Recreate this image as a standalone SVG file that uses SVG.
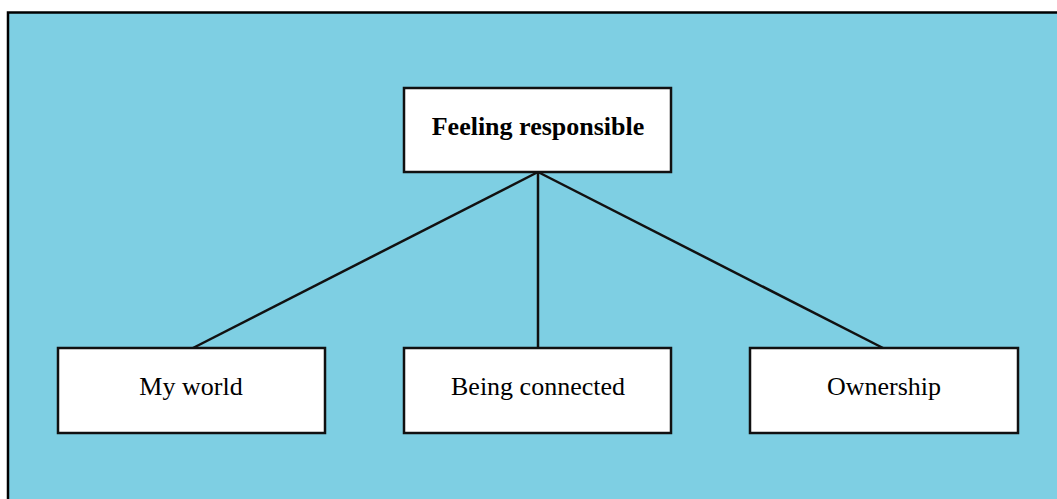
<svg xmlns="http://www.w3.org/2000/svg" width="1057" height="499" viewBox="0 0 1057 499">
  <style>
    .node rect { fill: #ffffff; stroke: #111111; stroke-width: 2.5; }
    .node text { font-family: "Liberation Serif", "Times New Roman", serif; font-size: 26px; fill: #000000; text-anchor: middle; }
    .node.root text { font-weight: bold; }
    #connectors line { stroke: #111111; stroke-width: 2.5; }
  </style>
  <rect x="0" y="0" width="1057" height="499" fill="#ffffff"/>
  <!-- panel background -->
  <rect x="8" y="12.5" width="1070" height="500" fill="#7ecfe3" stroke="#000000" stroke-width="2.5"/>

  <g id="connectors">
    <line x1="538" y1="172" x2="193" y2="348"/>
    <line x1="538" y1="172" x2="538" y2="348"/>
    <line x1="538" y1="172" x2="883" y2="348"/>
  </g>

  <g id="feeling-responsible" class="node root">
    <rect x="404" y="88" width="267" height="84"/>
    <text x="538" y="135">Feeling responsible</text>
  </g>
  <g id="my-world" class="node">
    <rect x="58" y="348" width="267" height="85"/>
    <text x="191" y="395">My world</text>
  </g>
  <g id="being-connected" class="node">
    <rect x="404" y="348" width="267" height="85"/>
    <text x="538" y="395">Being connected</text>
  </g>
  <g id="ownership" class="node">
    <rect x="750" y="348" width="268" height="85"/>
    <text x="884" y="395">Ownership</text>
  </g>
</svg>
